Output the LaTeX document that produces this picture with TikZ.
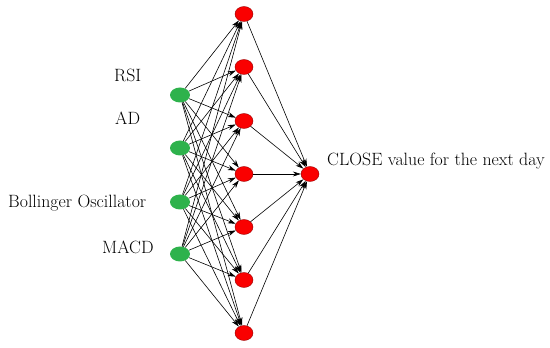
\documentclass[tikz,border=0pt]{standalone}
\usetikzlibrary{arrows.meta,shapes.geometric}
\definecolor{inputgreen}{RGB}{46,178,76}
\definecolor{unitred}{RGB}{250,0,0}
\definecolor{unitedge}{RGB}{150,0,0}
\tikzset{
  innode/.style={ellipse, fill=inputgreen, minimum width=20pt, minimum height=15pt, inner sep=0pt},
  hidnode/.style={ellipse, fill=unitred, draw=unitedge, line width=0.4pt, minimum width=18pt, minimum height=15pt, inner sep=0pt},
  link/.style={-{Stealth[length=8pt,width=5pt]}, line width=0.6pt},
  lbl/.style={font=\fontsize{17.8}{21}\selectfont, anchor=west, inner sep=0pt}
}

\begin{document}
\begin{tikzpicture}[x=1pt,y=1pt]
\useasboundingbox (0,0) rectangle (550,348);

% input layer
\node[innode] (in1) at (180,253) {};
\node[innode] (in2) at (180,200) {};
\node[innode] (in3) at (180,146) {};
\node[innode] (in4) at (180,94) {};
\node[lbl] (rsi) at (114,273) {RSI};
\node[lbl] (ad) at (115,230) {AD};
\node[lbl] (boll) at (8,145) {Bollinger Oscillator};
\node[lbl] (macd) at (102,101) {MACD};

% hidden layer
\node[hidnode] (h1) at (244,334) {};
\node[hidnode] (h2) at (244,281) {};
\node[hidnode] (h3) at (244,227) {};
\node[hidnode] (h4) at (244,174) {};
\node[hidnode] (h5) at (244,121) {};
\node[hidnode] (h6) at (244,68) {};
\node[hidnode] (h7) at (244,15) {};

% output
\node[hidnode] (out) at (310,174) {};
\node[lbl] (close) at (327,187) {CLOSE value for the next day};

\foreach \i in {1,...,4}
  \foreach \j in {1,...,7}
    \draw[link] (in\i) -- (h\j);
\foreach \j in {1,...,7}
  \draw[link] (h\j) -- (out);
\end{tikzpicture}
\end{document}
